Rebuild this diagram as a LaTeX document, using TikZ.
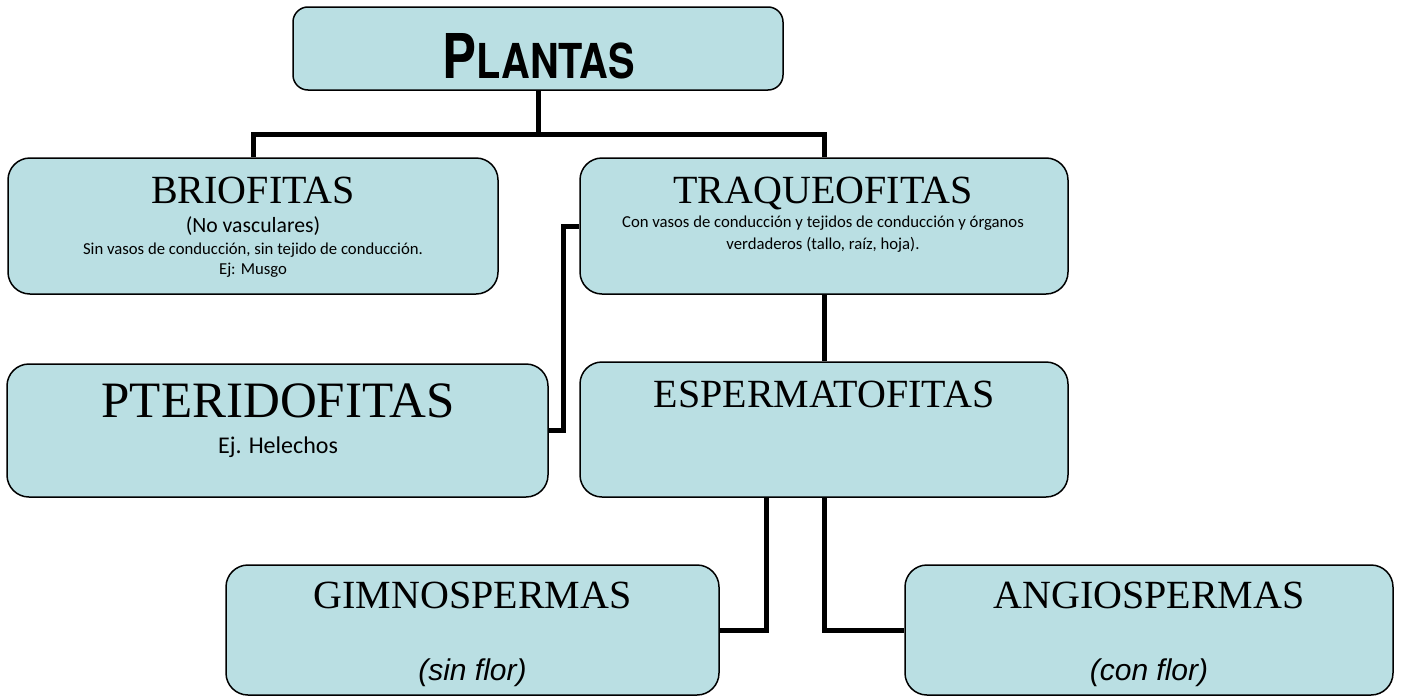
\documentclass[tikz,border=0pt]{standalone}
\usepackage{fontspec}
\setmainfont{Liberation Serif}
\newfontfamily\calibri{Carlito}
\newfontfamily\arialf{Liberation Sans}
\newfontfamily\heros{TeX Gyre Heros}
\definecolor{celeste}{RGB}{186,223,227}
\begin{document}
\begin{tikzpicture}[x=1pt,y=-1pt,
  caja/.style={draw=black, line width=1.5pt, fill=celeste, rounded corners=22pt},
  rama/.style={line width=5pt, black},
  grupo/.style={anchor=base, inner sep=0pt, font=\fontsize{40}{48}\selectfont},
  nota/.style={anchor=base, inner sep=0pt, font=\calibri\fontsize{16.7}{20}\selectfont}]
\useasboundingbox (0,0) rectangle (1402,699);
%% cajas
\node[caja, rounded corners=15pt, minimum width=490, minimum height=83] (plantas) at (538,48.5) {};
\node[caja, minimum width=490, minimum height=136] (brio) at (253,226) {};
\node[caja, minimum width=488, minimum height=136] (traq) at (824,226) {};
\node[caja, minimum width=541, minimum height=133] (pter) at (277.5,430.5) {};
\node[caja, minimum width=488, minimum height=135] (espe) at (824,429.5) {};
\node[caja, minimum width=493, minimum height=130] (gimno) at (472.5,630) {};
\node[caja, minimum width=488, minimum height=130] (angio) at (1149,630) {};
%% textos
\node[anchor=base, inner sep=0pt] (tplantas) at (539,78)
  {\resizebox{192pt}{45pt}{\heros\bfseries\fontsize{20}{20}\selectfont P\fontsize{15.6}{16}\selectfont LANTAS}};
\node[grupo] (tbrio) at (253,203) {BRIOFITAS};
\node[nota, font=\calibri\fontsize{21.7}{24}\selectfont] (tbrio1) at (253,232) {(No vasculares)};
\node[nota] (tbrio2) at (253,254) {Sin vasos de conducción, sin tejido de conducción.};
\node[nota] (tbrio3) at (253,274) {Ej: Musgo};
\node[grupo] (ttraq) at (823,203) {TRAQUEOFITAS};
\node[nota] (ttraq1) at (823,227) {Con vasos de conducción y tejidos de conducción y órganos};
\node[nota] (ttraq2) at (823,249) {verdaderos (tallo, raíz, hoja).};
\node[grupo, font=\fontsize{51}{60}\selectfont] (tpter) at (278,417) {PTERIDOFITAS};
\node[nota, font=\calibri\fontsize{24}{28}\selectfont] (tpter1) at (278,453) {Ej. Helechos};
\node[grupo] (tespe) at (824,407) {ESPERMATOFITAS};
\node[grupo] (tgimno) at (472.5,608) {GIMNOSPERMAS};
\node[nota, font=\arialf\itshape\fontsize{30}{34}\selectfont] (tgimno1) at (472.5,680) {(sin flor)};
\node[grupo] (tangio) at (1149,608) {ANGIOSPERMAS};
\node[nota, font=\arialf\itshape\fontsize{30}{34}\selectfont] (tangio1) at (1149,680) {(con flor)};
%% ramas
\coordinate (junta) at (538,134);
\draw[rama] (plantas.south) -- (junta);
\draw[rama] (brio.north) |- (junta) -| (traq.north);
\draw[rama] (traq.south) -- (espe.north);
\coordinate (codo) at (563,330);
\draw[rama] (traq.west) -| (codo) |- (pter.east);
\coordinate (ramag) at (766,560);
\draw[rama] (espe.south -| ramag) |- (gimno.east);
\draw[rama] (espe.south) |- (angio.west);
\end{tikzpicture}
\end{document}
